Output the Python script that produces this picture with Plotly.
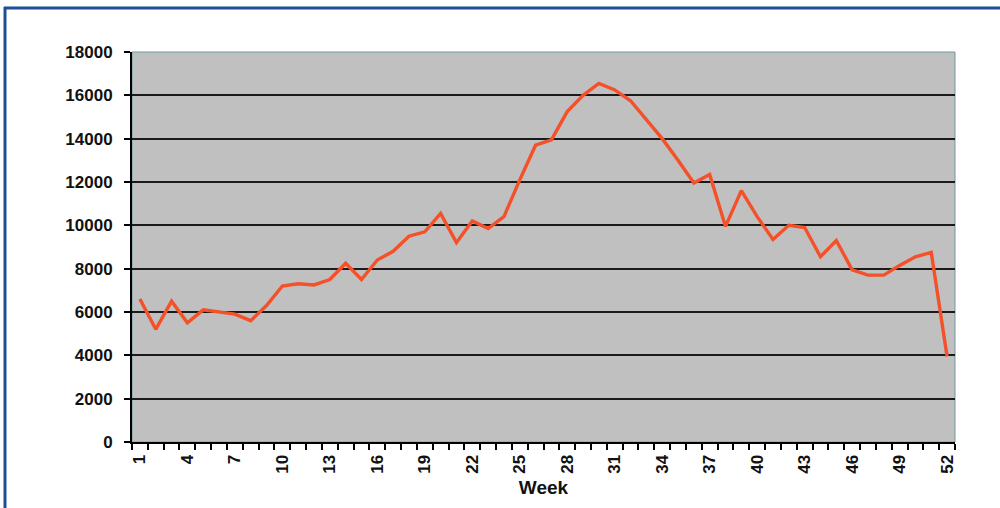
import plotly.graph_objects as go

# Weekly counts, weeks 1-52
weeks = list(range(1, 53))
counts = [
    6600, 5200, 6500, 5500, 6100, 6000, 5900, 5600, 6300, 7200,
    7300, 7250, 7500, 8250, 7500, 8400, 8800, 9500, 9700, 10550,
    9200, 10200, 9850, 10400, 12100, 13700, 13950, 15250, 16000, 16550,
    16250, 15750, 14900, 14000, 13000, 11950, 12350, 9950, 11600, 10400,
    9350, 10000, 9900, 8550, 9300, 7950, 7700, 7700, 8150, 8550,
    8750, 3950,
]
x_tick_weeks = list(range(1, 53, 3))
y_ticks = list(range(0, 18001, 2000))

L, R, T, B = 132, 955, 52, 442
W, H = 1000, 508


def px_x(p):
    return (p - L) / (R - L)


def px_y(p):
    return (B - p) / (B - T)


font_bold = dict(family="Liberation Sans, Arial, sans-serif", size=17,
                 color="#111111", weight="bold")

fig = go.Figure()
fig.add_trace(go.Scatter(
    x=weeks, y=counts, mode="lines",
    line=dict(color="#f4502a", width=3.4),
    hoverinfo="x+y",
))

fig.update_layout(
    width=W, height=H,
    margin=dict(l=L, r=W - R, t=T, b=H - B),
    paper_bgcolor="white",
    plot_bgcolor="#c0c0c0",
    showlegend=False,
    xaxis=dict(
        range=[0.5, 52.5],
        tickmode="array",
        tickvals=x_tick_weeks,
        ticktext=[str(w) for w in x_tick_weeks],
        tickangle=-90,
        ticks="",
        ticklabelstandoff=4,
        tickfont=font_bold,
        showgrid=False,
        zeroline=False,
        showline=True, linecolor="black", linewidth=2,
        minor=dict(
            tickmode="array",
            tickvals=[w - 0.5 for w in weeks] + [52.5],
            ticks="outside", ticklen=6, tickwidth=2, tickcolor="black",
            showgrid=False,
        ),
        title=dict(text="Week", font=dict(family="Liberation Sans, Arial, sans-serif",
                                          size=19, color="#111111", weight="bold"),
                   standoff=8),
    ),
    yaxis=dict(
        range=[0, 18000],
        tickmode="array",
        tickvals=y_ticks,
        ticktext=[str(v) for v in y_ticks],
        ticks="outside", ticklen=6, tickwidth=2, tickcolor="black",
        ticklabelstandoff=8,
        tickfont=font_bold,
        showgrid=True, gridcolor="#1a1a1a", gridwidth=2,
        zeroline=False,
        showline=True, linecolor="black", linewidth=2,
    ),
    shapes=[
        # thin plot-area outline on top and right
        dict(type="rect", xref="paper", yref="paper", x0=0, x1=1, y0=0, y1=1,
             line=dict(color="#6f9aa6", width=1), layer="below"),
        # blue frame along the top and left edges
        dict(type="line", xref="paper", yref="paper",
             x0=px_x(4), x1=px_x(1005), y0=px_y(8), y1=px_y(8),
             line=dict(color="#1d4f97", width=3)),
        dict(type="line", xref="paper", yref="paper",
             x0=px_x(5), x1=px_x(5), y0=px_y(7), y1=px_y(515),
             line=dict(color="#1d4f97", width=3)),
    ],
)

fig.write_html("out.html")
